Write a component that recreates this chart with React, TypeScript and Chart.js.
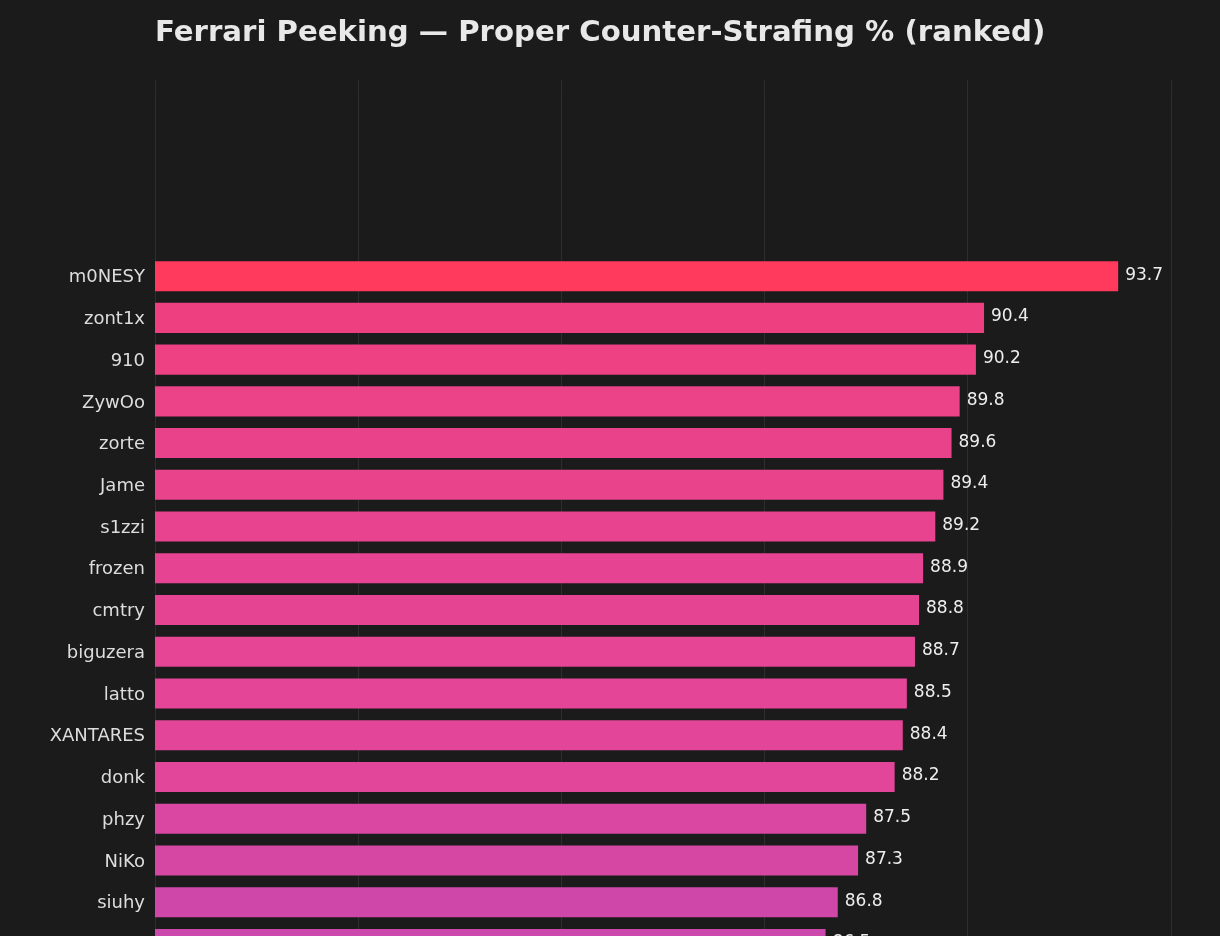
import React, { useEffect, useRef } from "react";
import { Chart, registerables } from "chart.js";

Chart.register(...registerables);

// ---- data ----
const TITLE = "Ferrari Peeking — Proper Counter-Strafing % (ranked)";
const players = [
  "m0NESY",
  "zont1x",
  "910",
  "ZywOo",
  "zorte",
  "Jame",
  "s1zzi",
  "frozen",
  "cmtry",
  "biguzera",
  "latto",
  "XANTARES",
  "donk",
  "phzy",
  "NiKo",
  "siuhy",
  "…",
];
const strafePct = [
  93.7, 90.4, 90.2, 89.8, 89.6, 89.4, 89.2, 88.9, 88.8, 88.7, 88.5, 88.4, 88.2,
  87.5, 87.3, 86.8, 86.5,
];
const xTicksMin = 70;
const xTicksMax = 95;
const xTickStep = 5;

// ---- style ----
const BG = "#1b1b1b";
const GRID = "#2e2e2e";
const FONT = "'DejaVu Sans', 'Noto Sans', sans-serif";
const EMPTY_SLOTS = 4;

// colour ramp by value (value, rgb)
const RAMP: [number, [number, number, number]][] = [
  [93.7, [255, 58, 92]],
  [90.4, [238, 64, 129]],
  [88.2, [226, 70, 154]],
  [86.8, [207, 72, 169]],
  [85.0, [185, 76, 188]],
];

function colorFor(v: number): string {
  let lo = RAMP[RAMP.length - 1];
  let hi = RAMP[0];
  if (v >= RAMP[0][0]) return `rgb(${RAMP[0][1].join(",")})`;
  for (let i = 0; i < RAMP.length - 1; i++) {
    if (v <= RAMP[i][0] && v >= RAMP[i + 1][0]) {
      hi = RAMP[i];
      lo = RAMP[i + 1];
      break;
    }
  }
  const t = (v - lo[0]) / (hi[0] - lo[0] || 1);
  const c = lo[1].map((l, k) => Math.round(l + (hi[1][k] - l) * t));
  return `rgb(${c.join(",")})`;
}

const valueLabels = {
  id: "valueLabels",
  afterDatasetsDraw(chart: any) {
    const ctx = chart.ctx as CanvasRenderingContext2D;
    const meta = chart.getDatasetMeta(0);
    const data = chart.data.datasets[0].data as (number | null)[];
    ctx.save();
    ctx.font = `17px ${FONT}`;
    ctx.fillStyle = "#eeeeee";
    ctx.textAlign = "left";
    ctx.textBaseline = "middle";
    meta.data.forEach((bar: any, i: number) => {
      const v = data[i];
      if (v == null) return;
      ctx.fillText(v.toFixed(1), bar.x + 7, bar.y - 1);
    });
    ctx.restore();
  },
};

export default function App() {
  const ref = useRef<HTMLCanvasElement | null>(null);

  useEffect(() => {
    document.body.style.margin = "0";
    document.body.style.background = BG;
    const canvas = ref.current;
    if (!canvas) return;

    const labels = [...Array(EMPTY_SLOTS).fill(""), ...players];
    const values = [...Array(EMPTY_SLOTS).fill(null), ...strafePct];
    const colors = values.map((v) => (v == null ? "transparent" : colorFor(v)));

    const chart = new Chart(canvas, {
      type: "bar",
      data: {
        labels,
        datasets: [
          {
            data: values,
            backgroundColor: colors,
            borderWidth: 0,
            barPercentage: 0.72,
            categoryPercentage: 1,
          },
        ],
      },
      options: {
        indexAxis: "y",
        responsive: false,
        animation: false,
        devicePixelRatio: 1,
        layout: { padding: { left: 0, right: 49, top: 0, bottom: 10 } },
        plugins: {
          legend: { display: false },
          tooltip: { enabled: false },
          title: {
            display: true,
            text: TITLE,
            align: "start",
            fullSize: false,
            color: "#e8e8e8",
            font: { family: FONT, size: 29.2, weight: "bold" },
            padding: { top: 16, bottom: 29.3 },
          },
        },
        scales: {
          x: {
            type: "linear",
            position: "bottom",
            min: xTicksMin,
            max: xTicksMax,
            ticks: {
              stepSize: xTickStep,
              color: "#bbbbbb",
              font: { family: FONT, size: 16 },
            },
            grid: { color: GRID, lineWidth: 1, drawTicks: false },
            border: { display: false },
          },
          x2: {
            type: "linear",
            position: "top",
            min: xTicksMin,
            max: xTicksMax,
            ticks: { stepSize: xTickStep, display: false },
            grid: {
              color: GRID,
              lineWidth: 1,
              drawOnChartArea: false,
              drawTicks: true,
              tickLength: 8,
            },
            border: { display: false },
          },
          y: {
            type: "category",
            grid: { display: false, drawTicks: false },
            border: { display: false },
            ticks: {
              autoSkip: false,
              color: "#dddddd",
              font: { family: FONT, size: 18 },
              padding: 10,
              labelOffset: 1.5,
            },
            afterFit: (scale: any) => {
              scale.width = 155;
            },
          },
        },
      },
      plugins: [valueLabels],
    } as any);

    return () => chart.destroy();
  }, []);

  return (
    <div
      style={{
        width: 1220,
        height: 936,
        overflow: "hidden",
        background: BG,
      }}
    >
      <canvas ref={ref} width={1220} height={1000} style={{ display: "block" }} />
    </div>
  );
}
